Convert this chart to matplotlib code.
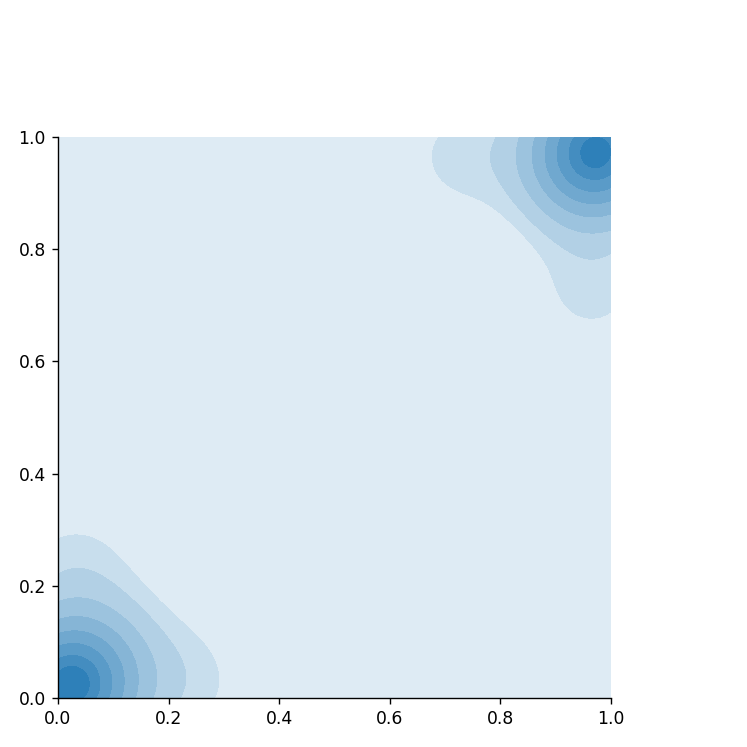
import numpy as np
import matplotlib
matplotlib.use("Agg")
import matplotlib.pyplot as plt
from matplotlib.colors import to_rgb

# Sample locations (x, y) with weights, read from the density shape
pt_x = [0.015, 0.045, 0.23, 0.03, 0.12, 0.98, 0.945, 0.73, 0.965]
pt_y = [0.015, 0.045, 0.03, 0.23, 0.12, 0.98, 0.945, 0.965, 0.73]
pt_w = [10.0, 3.0, 1.3, 1.3, 0.6, 10.0, 3.0, 1.3, 1.3]
bandwidth = 0.08
n_levels = 10
ticks = [0.0, 0.2, 0.4, 0.6, 0.8, 1.0]
tick_labels = ["0.0", "0.2", "0.4", "0.6", "0.8", "1.0"]
base_color = "#1f77b4"

# KDE on grid clipped to [0, 1]
g = np.linspace(0, 1, 200)
X, Y = np.meshgrid(g, g)
D = np.zeros_like(X)
for x, y, w in zip(pt_x, pt_y, pt_w):
    D += w * np.exp(-((X - x) ** 2 + (Y - y) ** 2) / (2 * bandwidth ** 2))
D /= D.sum()

# iso-proportion levels (thresh=0)
iso = np.linspace(0, 1, n_levels)
vals = np.sort(D.ravel())[::-1]
cum = np.cumsum(vals) / vals.sum()
idx = np.searchsorted(cum, 1 - iso)
levels = np.take(vals, idx, mode="clip")

# band colours: white blended toward the seed colour
base = np.array(to_rgb(base_color))
tvals = np.linspace(0.147, 0.935, n_levels - 1)
band_colors = [tuple(1 - t * (1 - base)) for t in tvals]

fig = plt.figure(figsize=(6, 6), dpi=124.5)
ax = fig.add_axes([58 / 747, 49 / 747, 553 / 747, 561 / 747])
ax.contourf(X, Y, D, levels=levels, colors=band_colors)
ax.set_xlim(0, 1)
ax.set_ylim(0, 1)
ax.set_xticks(ticks)
ax.set_xticklabels(tick_labels)
ax.set_yticks(ticks)
ax.set_yticklabels(tick_labels)
ax.spines["top"].set_visible(False)
ax.spines["right"].set_visible(False)
fig.savefig("out.png", dpi=124.5)
